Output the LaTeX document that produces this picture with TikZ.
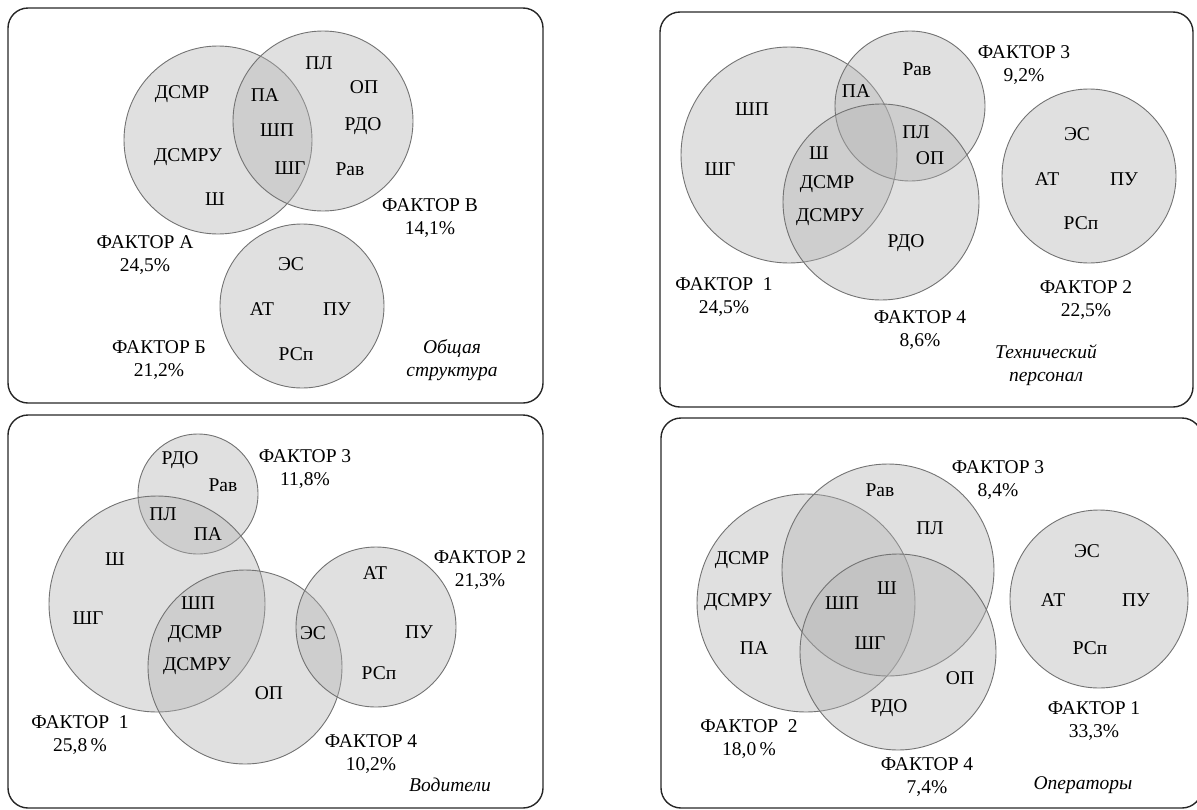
\documentclass[tikz,border=0pt]{standalone}
\usepackage{fontspec}
\setmainfont{Liberation Serif}
\usepackage{tikz}
\tikzset{
  % frame options
  panel/.style={draw=black!85,line width=1.4pt,rounded corners=20pt},
  % node options
  factor/.style={circle,draw=black!55,line width=0.9pt,fill=black!30,
    fill opacity=0.4,draw opacity=1,text opacity=1,inner sep=0pt},
  item/.style={font=\fontsize{19.5}{23.4}\selectfont,inner sep=0pt},
  share/.style={item,align=center},
  caption/.style={item,align=center,font=\fontsize{19.5}{23.4}\selectfont\itshape},
}

\begin{document}
\begin{tikzpicture}[x=1pt,y=-1pt]
    \useasboundingbox (0,0) rectangle (1197,809);
    % general structure
    \draw[panel] (8,8) rectangle (543,403);
    \node[factor,minimum size=188pt] (ga) at (218,140) {};
    \node[factor,minimum size=180pt] (gv) at (323,121) {};
    \node[factor,minimum size=164pt] (gb) at (302,306) {};
    \node[item] (ga1) at (182,94) {ДСМР};
    \node[item] (ga2) at (188,157) {ДСМРУ};
    \node[item] (ga3) at (215,199) {Ш};
    \node[item] (gab1) at (265,95) {ПА};
    \node[item] (gab2) at (277,130) {ШП};
    \node[item] (gab3) at (290,168) {ШГ};
    \node[item] (gv1) at (319,63) {ПЛ};
    \node[item] (gv2) at (364,87) {ОП};
    \node[item] (gv3) at (363,126) {РДО};
    \node[item] (gv4) at (350,169) {Рав};
    \node[item] (gb1) at (291,264) {ЭС};
    \node[item] (gb2) at (262,309) {АТ};
    \node[item] (gb3) at (337,309) {ПУ};
    \node[item] (gb4) at (296,354) {РСп};
    \node[share] (gvl) at (430,218) {ФАКТОР В\\14,1\%};
    \node[share] (gal) at (145,255) {ФАКТОР А\\24,5\%};
    \node[share] (gbl) at (159,360) {ФАКТОР Б\\21,2\%};
    \node[caption] (gcap) at (452,360) {Общая\\структура};
    % technical staff
    \draw[panel] (660,12) rectangle (1193,407);
    \node[factor,minimum size=216pt] (t1) at (789,155) {};
    \node[factor,minimum size=150pt] (t3) at (910,106) {};
    \node[factor,minimum size=196pt] (t4) at (881,202) {};
    \node[factor,minimum size=174pt] (t2) at (1089,176) {};
    \node[item] (t31) at (917,69) {Рав};
    \node[item] (t13) at (856,91) {ПА};
    \node[item] (t11) at (752,109) {ШП};
    \node[item] (t12) at (720,169) {ШГ};
    \node[item] (t34a) at (916,132) {ПЛ};
    \node[item] (t34b) at (930,158) {ОП};
    \node[item] (t14a) at (819,153) {Ш};
    \node[item] (t14b) at (827,184) {ДСМР};
    \node[item] (t14c) at (830,217) {ДСМРУ};
    \node[item] (t41) at (906,243) {РДО};
    \node[item] (t21) at (1077,134) {ЭС};
    \node[item] (t22) at (1047,179) {АТ};
    \node[item] (t23) at (1124,179) {ПУ};
    \node[item] (t24) at (1081,223) {РСп};
    \node[share] (t3l) at (1024,65) {ФАКТОР 3\\9,2\%};
    \node[share] (t1l) at (724,297) {ФАКТОР~~1\\24,5\%};
    \node[share] (t2l) at (1086,300) {ФАКТОР 2\\22,5\%};
    \node[share] (t4l) at (920,330) {ФАКТОР 4\\8,6\%};
    \node[caption] (tcap) at (1046,365) {Технический\\персонал};
    % drivers
    \draw[panel] (8,415) rectangle (543,808);
    \node[factor,minimum size=120pt] (d3) at (198,494) {};
    \node[factor,minimum size=216pt] (d1) at (157,604) {};
    \node[factor,minimum size=194pt] (d4) at (245,667) {};
    \node[factor,minimum size=160pt] (d2) at (376,627) {};
    \node[item] (d31) at (180,460) {РДО};
    \node[item] (d32) at (223,485) {Рав};
    \node[item] (d13a) at (163,514) {ПЛ};
    \node[item] (d13b) at (208,534) {ПА};
    \node[item] (d11) at (115,559) {Ш};
    \node[item] (d12) at (88,618) {ШГ};
    \node[item] (d14a) at (198,603) {ШП};
    \node[item] (d14b) at (195,634) {ДСМР};
    \node[item] (d14c) at (197,666) {ДСМРУ};
    \node[item] (d24) at (313,633) {ЭС};
    \node[item] (d21) at (375,573) {АТ};
    \node[item] (d22) at (419,632) {ПУ};
    \node[item] (d23) at (379,673) {РСп};
    \node[item] (d41) at (269,693) {ОП};
    \node[share] (d3l) at (305,469) {ФАКТОР 3\\11,8\%};
    \node[share] (d2l) at (480,570) {ФАКТОР 2\\21,3\%};
    \node[share] (d1l) at (80,735) {ФАКТОР~~1\\25,8\,\%};
    \node[share] (d4l) at (371,754) {ФАКТОР 4\\10,2\%};
    \node[caption] (dcap) at (450,785) {Водители};
    % operators
    \draw[panel] (661,418) rectangle (1202,808);
    \node[factor,minimum size=218pt] (o2) at (806,603) {};
    \node[factor,minimum size=212pt] (o3) at (888,570) {};
    \node[factor,minimum size=196pt] (o4) at (898,652) {};
    \node[factor,minimum size=178pt] (o1) at (1099,599) {};
    \node[item] (o31) at (880,490) {Рав};
    \node[item] (o32) at (930,528) {ПЛ};
    \node[item] (o21) at (742,560) {ДСМР};
    \node[item] (o22) at (738,602) {ДСМРУ};
    \node[item] (o23) at (754,648) {ПА};
    \node[item] (o234a) at (842,603) {ШП};
    \node[item] (o234b) at (887,588) {Ш};
    \node[item] (o234c) at (870,643) {ШГ};
    \node[item] (o41) at (960,678) {ОП};
    \node[item] (o42) at (889,708) {РДО};
    \node[item] (o11) at (1087,551) {ЭС};
    \node[item] (o12) at (1053,600) {АТ};
    \node[item] (o13) at (1136,600) {ПУ};
    \node[item] (o14) at (1090,648) {РСп};
    \node[share] (o3l) at (998,480) {ФАКТОР 3\\8,4\%};
    \node[share] (o1l) at (1094,721) {ФАКТОР 1\\33,3\%};
    \node[share] (o2l) at (749,739) {ФАКТОР~~2\\18,0\,\%};
    \node[share] (o4l) at (927,777) {ФАКТОР 4\\7,4\%};
    \node[caption] (ocap) at (1083,785) {Операторы};
\end{tikzpicture}
\end{document}
